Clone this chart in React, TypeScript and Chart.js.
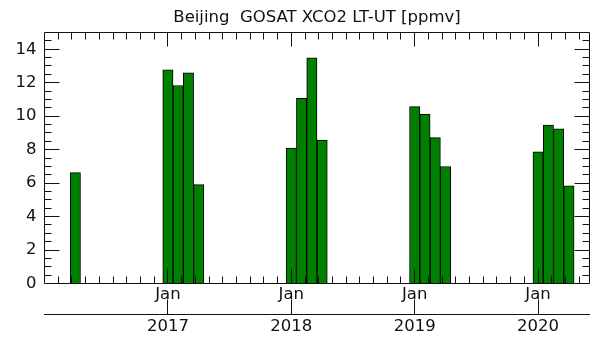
import React, { useEffect, useRef } from "react";
import { Chart, registerables } from "chart.js";

Chart.register(...registerables);

// ---- data ----
const TITLE = "Beijing  GOSAT XCO2 LT-UT [ppmv]";
const MONTHS = [
  "2016-04",
  "2017-01", "2017-02", "2017-03", "2017-04",
  "2018-01", "2018-02", "2018-03", "2018-04",
  "2019-01", "2019-02", "2019-03", "2019-04",
  "2020-01", "2020-02", "2020-03", "2020-04",
];
const VALUES = [
  6.63,
  12.77, 11.83, 12.59, 5.91,
  8.1, 11.07, 13.48, 8.57,
  10.57, 10.12, 8.72, 6.99,
  7.87, 9.46, 9.24, 5.84,
];
const AXIS_START = "2016-01";
const AXIS_END = "2020-06";
const Y_MIN = 0;
const Y_MAX = 15;
const Y_TICKS = [0, 2, 4, 6, 8, 10, 12, 14];
const YEAR_LABELS = ["2017", "2018", "2019", "2020"];
const MONTH_LABEL = "Jan";

// ---- style ----
const FONT_FAMILY = "'DejaVu Sans', 'Liberation Sans', sans-serif";
const INK = "#111";
const BAR_FILL = "#008000";
const Y_MINOR_STEP = 0.5;
const Y_MAJOR_STEP = 2;
const X_MINOR_STEP = 12 / 9; // months

function monthIndex(s: string): number {
  const [y0, m0] = AXIS_START.split("-").map(Number);
  const [y, m] = s.split("-").map(Number);
  return (y - y0) * 12 + (m - m0);
}

const X_MIN = 0;
const X_MAX = monthIndex(AXIS_END);
const YEAR_VALUES = YEAR_LABELS.map((y) => monthIndex(`${y}-01`));

const axisDecor = {
  id: "axisDecor",
  afterDatasetsDraw(chart: any) {
    const { ctx, chartArea: a, scales } = chart;
    const xs = scales.x;
    const ys = scales.y;
    const x2 = scales.x2;
    const hp = (p: number) => Math.floor(p) + 0.5;
    ctx.save();
    ctx.strokeStyle = INK;
    ctx.lineWidth = 1;
    ctx.beginPath();
    // frame
    ctx.rect(hp(a.left), hp(a.top), hp(a.right) - hp(a.left), hp(a.bottom) - hp(a.top));
    // y ticks, both sides, pointing inward
    const nY = Math.round((Y_MAX - Y_MIN) / Y_MINOR_STEP);
    for (let k = 1; k < nY; k++) {
      const v = Y_MIN + k * Y_MINOR_STEP;
      const isMajor = Math.abs(v / Y_MAJOR_STEP - Math.round(v / Y_MAJOR_STEP)) < 1e-6;
      const len = isMajor ? 15 : 7;
      const py = hp(ys.getPixelForValue(v));
      ctx.moveTo(hp(a.left), py);
      ctx.lineTo(hp(a.left) + len, py);
      ctx.moveTo(hp(a.right), py);
      ctx.lineTo(hp(a.right) - len, py);
    }
    // x ticks, top and bottom, pointing inward
    for (let k = 1; k * X_MINOR_STEP < X_MAX - 0.01; k++) {
      const v = k * X_MINOR_STEP;
      const isJan = k % 9 === 0;
      const px = hp(xs.getPixelForValue(v));
      const lenB = isJan ? 15 : 7;
      const lenT = isJan ? 14 : 7;
      ctx.moveTo(px, hp(a.bottom));
      ctx.lineTo(px, hp(a.bottom) - lenB);
      ctx.moveTo(px, hp(a.top));
      ctx.lineTo(px, hp(a.top) + lenT);
    }
    // secondary (year) axis line with upward ticks
    const ly = hp(x2.top);
    ctx.moveTo(hp(a.left) - 0.5, ly);
    ctx.lineTo(hp(a.right) + 0.5, ly);
    for (const v of YEAR_VALUES) {
      const px = hp(x2.getPixelForValue(v));
      ctx.moveTo(px, ly);
      ctx.lineTo(px, ly - 15);
    }
    ctx.stroke();
    ctx.restore();
  },
};

export default function App() {
  const ref = useRef<HTMLCanvasElement | null>(null);

  useEffect(() => {
    if (!ref.current) return;
    const font = { family: FONT_FAMILY, size: 16.5, weight: "normal" as const };
    const chart = new Chart(ref.current, {
      type: "bar",
      data: {
        datasets: [
          {
            data: MONTHS.map((m, i) => ({ x: monthIndex(m), y: VALUES[i] })),
            backgroundColor: BAR_FILL,
            borderColor: "#000",
            borderWidth: 1,
            borderSkipped: "start",
            barPercentage: 1,
            categoryPercentage: 1,
          },
        ],
      },
      options: {
        animation: false,
        responsive: false,
        events: [],
        layout: { padding: { top: 0, left: 0, right: 6.5, bottom: 0 } },
        plugins: {
          legend: { display: false },
          tooltip: { enabled: false },
          title: {
            display: true,
            text: TITLE,
            fullSize: false,
            color: INK,
            font,
            padding: { top: 7.5, bottom: 5.2 },
          },
        },
        scales: {
          x: {
            type: "linear",
            position: "bottom",
            min: X_MIN,
            max: X_MAX,
            offset: false,
            weight: 0,
            grid: { display: false, drawTicks: false },
            border: { display: false },
            afterBuildTicks: (s: any) => {
              s.ticks = YEAR_VALUES.map((v) => ({ value: v }));
            },
            ticks: {
              callback: () => MONTH_LABEL,
              font,
              color: INK,
              padding: 1.5,
              maxRotation: 0,
              autoSkip: false,
            },
            afterFit: (s: any) => {
              s.height = 31;
            },
          },
          x2: {
            type: "linear",
            position: "bottom",
            min: X_MIN,
            max: X_MAX,
            offset: false,
            weight: 1,
            grid: { display: false, drawTicks: false },
            border: { display: false },
            afterBuildTicks: (s: any) => {
              s.ticks = YEAR_VALUES.map((v) => ({ value: v }));
            },
            ticks: {
              callback: (_v: any, i: number) => YEAR_LABELS[i],
              font,
              color: INK,
              padding: 2.5,
              maxRotation: 0,
              autoSkip: false,
            },
            afterFit: (s: any) => {
              s.height = 26.5;
            },
          },
          y: {
            type: "linear",
            position: "left",
            min: Y_MIN,
            max: Y_MAX,
            grid: { display: false, drawTicks: false },
            border: { display: false },
            afterBuildTicks: (s: any) => {
              s.ticks = Y_TICKS.map((v) => ({ value: v }));
            },
            ticks: { font, color: INK, padding: 8 },
            afterFit: (s: any) => {
              s.width = 44.5;
            },
          },
        },
      },
      plugins: [axisDecor],
    });
    return () => chart.destroy();
  }, []);

  return (
    <div style={{ position: "fixed", left: 0, top: 0, width: 596, height: 341, background: "#fff" }}>
      <canvas ref={ref} width={596} height={341} />
    </div>
  );
}
